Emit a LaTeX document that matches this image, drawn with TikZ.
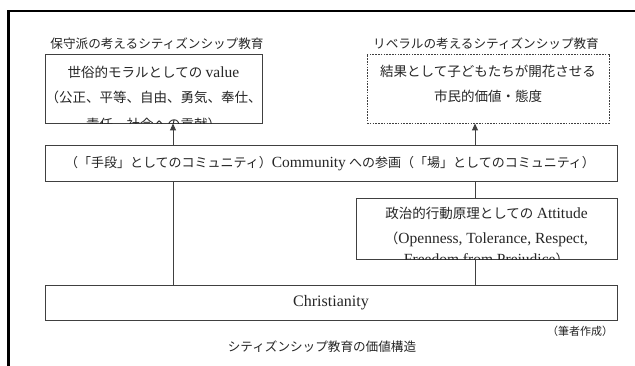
\documentclass[tikz,border=0pt]{standalone}
\usepackage{fontspec}
\setmainfont{Liberation Serif}
\newfontfamily\jp{Noto Sans CJK JP}
\newcommand\latw[1]{{\fontsize{15.5}{17}\selectfont #1}}
\usetikzlibrary{arrows.meta}
\tikzset{
  box/.style={draw=black!75, line width=0.9pt, inner sep=0pt},
  dbox/.style={draw=black!75, line width=0.9pt, dashed, dash pattern=on 1.6pt off 1.2pt, inner sep=0pt},
  txt/.style={inner sep=0pt, font=\fontsize{13.5}{15}\selectfont, text=black!85},
  lbl/.style={inner sep=0pt, font=\jp\fontsize{12.6}{14}\selectfont, text=black!85},
  conn/.style={draw=black!75, line width=0.9pt},
  arr/.style={conn, -{Triangle[length=7pt,width=6pt]}},
  frame/.style={line width=2.6pt, black}
}
\begin{document}
\begin{tikzpicture}[x=1pt,y=-1pt]
\useasboundingbox (0,0) rectangle (635,366);
\fill[white] (0,0) rectangle (635,366);
% frame
\coordinate (fb) at (8.5,366);
\coordinate (fc) at (8.5,11);
\coordinate (fr) at (635,11);
\draw[frame] (fb) -- (fc) -- (fr);
% labels
\node[lbl] (lblL) at (157,44) {保守派の考えるシティズンシップ教育};
\node[lbl] (lblR) at (486,44) {リベラルの考えるシティズンシップ教育};
% boxes
\node[box, minimum width=217, minimum height=69] (value) at (153.5,88.5) {};
\node[dbox, minimum width=242, minimum height=69] (civic) at (488,88.5) {};
\node[box, minimum width=572, minimum height=36] (comm) at (331,163) {};
\node[box, minimum width=261, minimum height=61] (att) at (486.5,228.5) {};
\node[box, minimum width=572, minimum height=35] (chr) at (331,302.5) {};
% texts in value box
\node[txt] (v1) at (153.5,72) {{\jp 世俗的モラルとしての} \latw{value}};
\node[txt] (v2) at (153.5,97) {\jp （公正、平等、自由、勇気、奉仕、};
\begin{scope}
\clip (value.north west) rectangle (value.south east);
\node[txt] (v3) at (153.5,124) {\jp 責任、社会への貢献）};
\end{scope}
% civic box
\node[txt] (c1) at (488,71) {\jp 結果として子どもたちが開花させる};
\node[txt] (c2) at (488,96) {\jp 市民的価値・態度};
% community
\node[txt, font=\fontsize{13}{15}\selectfont] (cm) at (330,163.5) {{\jp （「手段」としてのコミュニティ）}\latw{Community} {\jp への参画（「場」としてのコミュニティ）}};
% attitude
\node[txt] (a1) at (486.5,213) {{\jp 政治的行動原理としての} \latw{Attitude}};
\node[txt] (a2) at (486.5,239) {{\jp （}\latw{Openness, Tolerance, Respect,}};
\begin{scope}
\clip (att.north west) rectangle (att.south east);
\node[txt] (a3) at (486.5,260) {\latw{Freedom from Prejudice}{\jp ）}};
\end{scope}
% christianity
\node[txt, font=\fontsize{16}{18}\selectfont] (ch) at (331,302.5) {Christianity};
% bottom texts
\node[lbl, font=\jp\fontsize{11}{12}\selectfont] (note) at (580,331) {（筆者作成）};
\node[lbl] (cap) at (322,347) {シティズンシップ教育の価値構造};
% connectors
\draw[arr] (comm.north -| value.south) ++(19.5,0) coordinate (la) -- (la |- value.south);
\draw[arr] (comm.north -| att.north) ++(-11.5,0) coordinate (ra) -- (ra |- civic.south);
\draw[conn] (la |- chr.north) -- (la |- comm.south);
\draw[conn] (ra |- comm.south) -- (ra |- att.north);
\draw[conn] (ra |- att.south) -- (ra |- chr.north);
\end{tikzpicture}
\end{document}
